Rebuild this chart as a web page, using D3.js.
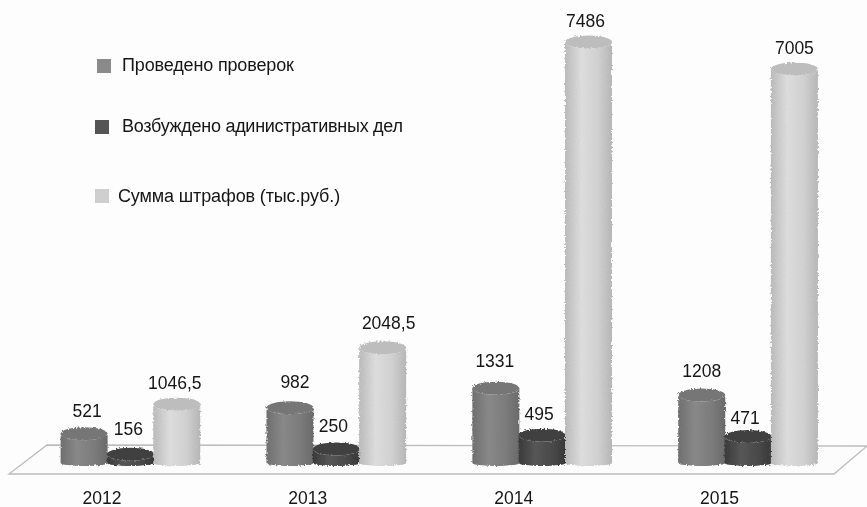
<!DOCTYPE html>
<html><head><meta charset="utf-8">
<script src="https://cdn.jsdelivr.net/npm/d3@7"></script>
<style>
html,body{margin:0;padding:0;background:#fdfdfd}
svg{display:block}
text{font-family:"Liberation Sans",Arial,sans-serif;font-size:17.5px;fill:#151515}
</style></head><body><svg id="c" width="867" height="507"></svg>
<script>
const years = ["2012","2013","2014","2015"];
const seriesNames = ["Проведено проверок","Возбуждено адинистративных дел","Сумма штрафов (тыс.руб.)"];
const checks = [521,982,1331,1208];
const cases = [156,250,495,471];
const fines = [1046.5,2048.5,7486,7005];
const fineLabels = ["1046,5","2048,5","7486","7005"];
const shades = [
  {stops:["#6f6f6f","#888888","#7c7c7c","#6a6a6a"],top:"#767676",legend:"#8a8a8a"},
  {stops:["#3a3a3a","#565656","#4a4a4a","#383838"],top:"#414141",legend:"#555555"},
  {stops:["#bababa","#dcdcdc","#d0d0d0","#b6b6b6"],top:"#bdbdbd",legend:"#cfcfcf"}
];
const allSeries = [checks,cases,fines];
const svg = d3.select("#c");
const baseY=463;
const defs = svg.append("defs");
shades.forEach((s,i)=>{
  const g=defs.append("linearGradient").attr("id","g"+i);
  s.stops.forEach((c,j)=>g.append("stop").attr("offset",[0,.35,.7,1][j]).attr("stop-color",c));
});
const rough=defs.append("filter").attr("id","rough").attr("x","-5%").attr("y","-5%").attr("width","110%").attr("height","110%");
rough.append("feTurbulence").attr("type","fractalNoise").attr("baseFrequency",.55).attr("numOctaves",1).attr("seed",3).attr("result","n");
rough.append("feDisplacementMap").attr("in","SourceGraphic").attr("in2","n").attr("scale",3.5).attr("result","d");
rough.append("feGaussianBlur").attr("in","d").attr("stdDeviation",.4);
const soft=defs.append("filter").attr("id","soft");
soft.append("feGaussianBlur").attr("stdDeviation",.35);

const x0=d3.scaleBand().domain(years).range([27.5,851]);
const x1=d3.scaleBand().domain([0,1,2]).range([x0.bandwidth()/2-69.5,x0.bandwidth()/2+69.5]);
const y=d3.scaleLinear().domain([0,7486]).range([baseY,42]);
const rx=23.5,ry=6.5;

// floor
svg.append("path").attr("d",d3.line()([[9,474],[47,445],[867,446],[834,474]])+"Z").attr("fill","#fcfcfc");
svg.append("path").attr("d",d3.line()([[867,446],[47,445],[9,474],[834,474],[867,446]]))
  .attr("fill","none").attr("stroke","#bcbcbc").attr("stroke-width",1.3);

// cylinders
const bars=svg.append("g").attr("filter","url(#rough)");
years.forEach((yr,gi)=>{
  [0,1,2].forEach(si=>{
    const v=allSeries[si][gi];
    const cx=x0(yr)+x1(si)+x1.bandwidth()/2;
    const ty=y(v);
    bars.append("path")
      .attr("d",`M${cx-rx},${ty}L${cx-rx},${baseY}A${rx},3 0 0 0 ${cx+rx},${baseY}L${cx+rx},${ty}A${rx},${ry} 0 0 1 ${cx-rx},${ty}Z`)
      .attr("fill",`url(#g${si})`);
    bars.append("ellipse").attr("cx",cx).attr("cy",ty).attr("rx",rx).attr("ry",ry).attr("fill",shades[si].top);
  });
});

// value labels: offsets from the top of each cylinder, [series][year]
const labelG=svg.append("g").attr("filter","url(#soft)");
const offX=[[3,5,-1,0],[-2,-3,-3,-3],[-2,6,-3,0]];
const offY=[[-17,-20,-21,-18],[-19,-17,-15,-13],[-15,-19,-15,-15]];
years.forEach((yr,gi)=>{
  [0,1,2].forEach(si=>{
    const v=allSeries[si][gi];
    const cx=x0(yr)+x1(si)+x1.bandwidth()/2;
    const txt=si===2?fineLabels[gi]:String(v);
    labelG.append("text").attr("x",cx+offX[si][gi]).attr("y",y(v)+offY[si][gi])
      .attr("text-anchor","middle").text(txt);
  });
});
// axis labels
years.forEach(yr=>{
  labelG.append("text").attr("x",x0(yr)+x0.bandwidth()/2-28.5).attr("y",504)
    .attr("text-anchor","middle").text(yr);
});
// legend
const legendPos=[{sx:97,sy:59,tx:122,ty:71,ls:-.15},{sx:95,sy:120,tx:122,ty:132,ls:-.28},{sx:95,sy:189,tx:118,ty:202,ls:-.13}];
seriesNames.forEach((n,i)=>{
  const p=legendPos[i];
  svg.append("rect").attr("x",p.sx).attr("y",p.sy).attr("width",14).attr("height",14).attr("fill",shades[i].legend);
  labelG.append("text").attr("x",p.tx).attr("y",p.ty).attr("letter-spacing",p.ls).style("font-size","18px").text(n);
});
</script></body></html>
